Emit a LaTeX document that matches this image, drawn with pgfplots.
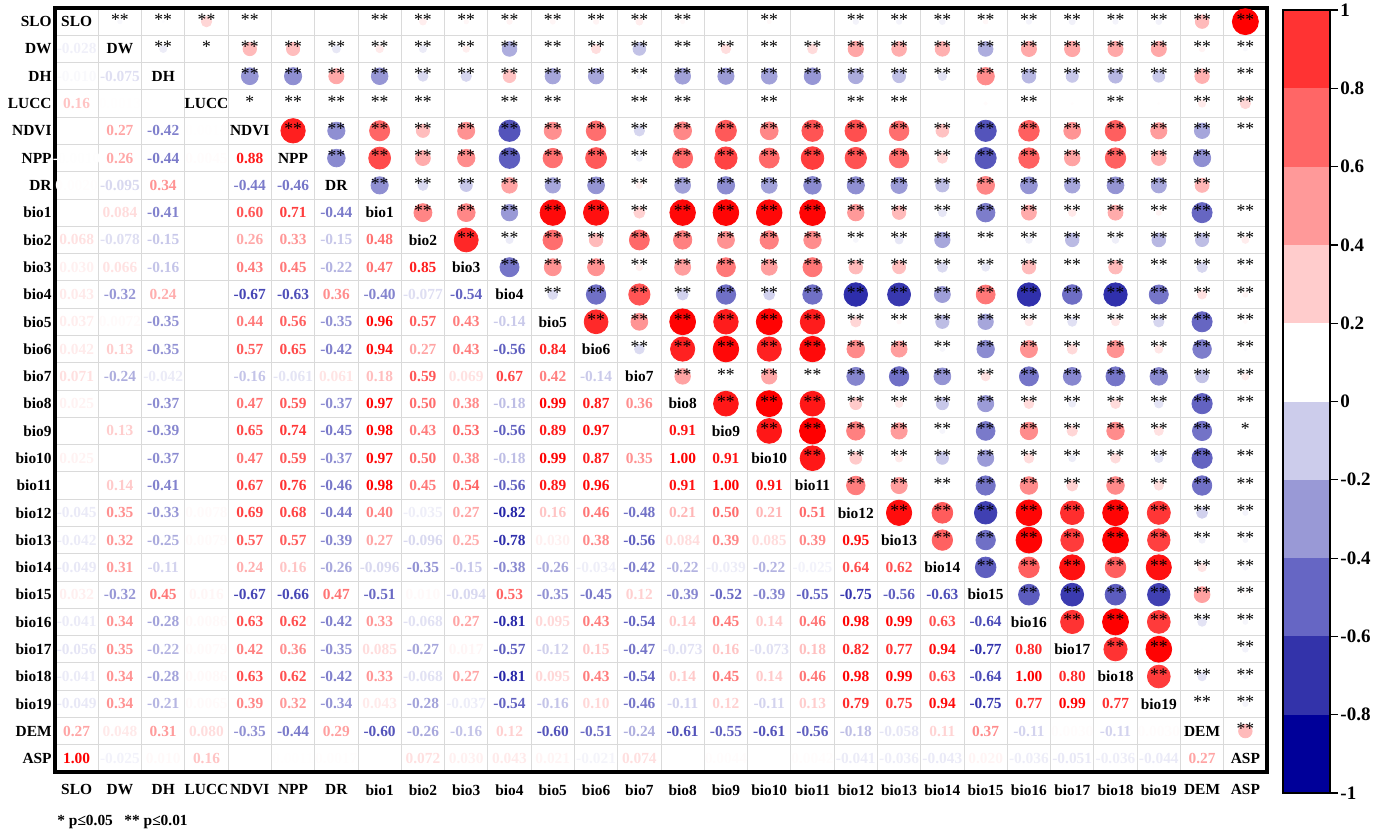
\documentclass[border=0pt]{standalone}
\usepackage{fontspec}
\setmainfont{Liberation Serif}
\usepackage{pgfplots}
\usepackage{pgfplotstable}
\pgfplotsset{compat=1.18}

\pgfplotstableread[row sep=\\]{
i j r s\\
1 0 -0.028 2\\
2 0 -0.010 2\\ 2 1 -0.075 2\\
3 0 0.16 2\\ 3 1 0.0013 1\\ 3 2 0 0\\
4 0 0 2\\ 4 1 0.27 2\\ 4 2 -0.42 2\\ 4 3 0.0013 1\\
5 0 -0.0010 0\\ 5 1 0.26 2\\ 5 2 -0.44 2\\ 5 3 0.0045 2\\ 5 4 0.88 2\\
6 0 0.0020 0\\ 6 1 -0.095 2\\ 6 2 0.34 2\\ 6 3 0 2\\ 6 4 -0.44 2\\ 6 5 -0.46 2\\
7 0 0 2\\ 7 1 0.084 2\\ 7 2 -0.41 2\\ 7 3 0 2\\ 7 4 0.60 2\\ 7 5 0.71 2\\ 7 6 -0.44 2\\
8 0 0.068 2\\ 8 1 -0.078 2\\ 8 2 -0.15 2\\ 8 3 0 2\\ 8 4 0.26 2\\ 8 5 0.33 2\\ 8 6 -0.15 2\\ 8 7 0.48 2\\
9 0 0.030 2\\ 9 1 0.066 2\\ 9 2 -0.16 2\\ 9 3 0 0\\ 9 4 0.43 2\\ 9 5 0.45 2\\ 9 6 -0.22 2\\ 9 7 0.47 2\\ 9 8 0.85 2\\
10 0 0.043 2\\ 10 1 -0.32 2\\ 10 2 0.24 2\\ 10 3 0 2\\ 10 4 -0.67 2\\ 10 5 -0.63 2\\ 10 6 0.36 2\\ 10 7 -0.40 2\\ 10 8 -0.077 2\\ 10 9 -0.54 2\\
11 0 0.037 2\\ 11 1 0.0072 2\\ 11 2 -0.35 2\\ 11 3 0 2\\ 11 4 0.44 2\\ 11 5 0.56 2\\ 11 6 -0.35 2\\ 11 7 0.96 2\\ 11 8 0.57 2\\ 11 9 0.43 2\\ 11 10 -0.14 2\\
12 0 0.042 2\\ 12 1 0.13 2\\ 12 2 -0.35 2\\ 12 3 0 0\\ 12 4 0.57 2\\ 12 5 0.65 2\\ 12 6 -0.42 2\\ 12 7 0.94 2\\ 12 8 0.27 2\\ 12 9 0.43 2\\ 12 10 -0.56 2\\ 12 11 0.84 2\\
13 0 0.071 2\\ 13 1 -0.24 2\\ 13 2 -0.042 2\\ 13 3 0 2\\ 13 4 -0.16 2\\ 13 5 -0.061 2\\ 13 6 0.061 2\\ 13 7 0.18 2\\ 13 8 0.59 2\\ 13 9 0.069 2\\ 13 10 0.67 2\\ 13 11 0.42 2\\ 13 12 -0.14 2\\
14 0 0.025 2\\ 14 1 0 2\\ 14 2 -0.37 2\\ 14 3 0 2\\ 14 4 0.47 2\\ 14 5 0.59 2\\ 14 6 -0.37 2\\ 14 7 0.97 2\\ 14 8 0.50 2\\ 14 9 0.38 2\\ 14 10 -0.18 2\\ 14 11 0.99 2\\ 14 12 0.87 2\\ 14 13 0.36 2\\
15 0 0 0\\ 15 1 0.13 2\\ 15 2 -0.39 2\\ 15 3 0 0\\ 15 4 0.65 2\\ 15 5 0.74 2\\ 15 6 -0.45 2\\ 15 7 0.98 2\\ 15 8 0.43 2\\ 15 9 0.53 2\\ 15 10 -0.56 2\\ 15 11 0.89 2\\ 15 12 0.97 2\\ 15 13 0 2\\ 15 14 0.91 2\\
16 0 0.025 2\\ 16 1 0 2\\ 16 2 -0.37 2\\ 16 3 0 2\\ 16 4 0.47 2\\ 16 5 0.59 2\\ 16 6 -0.37 2\\ 16 7 0.97 2\\ 16 8 0.50 2\\ 16 9 0.38 2\\ 16 10 -0.18 2\\ 16 11 0.99 2\\ 16 12 0.87 2\\ 16 13 0.35 2\\ 16 14 1.00 2\\ 16 15 0.91 2\\
17 0 0 0\\ 17 1 0.14 2\\ 17 2 -0.41 2\\ 17 3 0 0\\ 17 4 0.67 2\\ 17 5 0.76 2\\ 17 6 -0.46 2\\ 17 7 0.98 2\\ 17 8 0.45 2\\ 17 9 0.54 2\\ 17 10 -0.56 2\\ 17 11 0.89 2\\ 17 12 0.96 2\\ 17 13 0 2\\ 17 14 0.91 2\\ 17 15 1.00 2\\ 17 16 0.91 2\\
18 0 -0.045 2\\ 18 1 0.35 2\\ 18 2 -0.33 2\\ 18 3 0.0078 2\\ 18 4 0.69 2\\ 18 5 0.68 2\\ 18 6 -0.44 2\\ 18 7 0.40 2\\ 18 8 -0.035 2\\ 18 9 0.27 2\\ 18 10 -0.82 2\\ 18 11 0.16 2\\ 18 12 0.46 2\\ 18 13 -0.48 2\\ 18 14 0.21 2\\ 18 15 0.50 2\\ 18 16 0.21 2\\ 18 17 0.51 2\\
19 0 -0.042 2\\ 19 1 0.32 2\\ 19 2 -0.25 2\\ 19 3 0.0079 2\\ 19 4 0.57 2\\ 19 5 0.57 2\\ 19 6 -0.39 2\\ 19 7 0.27 2\\ 19 8 -0.096 2\\ 19 9 0.25 2\\ 19 10 -0.78 2\\ 19 11 0.030 2\\ 19 12 0.38 2\\ 19 13 -0.56 2\\ 19 14 0.084 2\\ 19 15 0.39 2\\ 19 16 0.085 2\\ 19 17 0.39 2\\ 19 18 0.95 2\\
20 0 -0.049 2\\ 20 1 0.31 2\\ 20 2 -0.11 2\\ 20 3 0 0\\ 20 4 0.24 2\\ 20 5 0.16 2\\ 20 6 -0.26 2\\ 20 7 -0.096 2\\ 20 8 -0.35 2\\ 20 9 -0.15 2\\ 20 10 -0.38 2\\ 20 11 -0.26 2\\ 20 12 -0.034 2\\ 20 13 -0.42 2\\ 20 14 -0.22 2\\ 20 15 -0.039 2\\ 20 16 -0.22 2\\ 20 17 -0.025 2\\ 20 18 0.64 2\\ 20 19 0.62 2\\
21 0 0.032 2\\ 21 1 -0.32 2\\ 21 2 0.45 2\\ 21 3 0.016 0\\ 21 4 -0.67 2\\ 21 5 -0.66 2\\ 21 6 0.47 2\\ 21 7 -0.51 2\\ 21 8 0.0098 2\\ 21 9 -0.094 2\\ 21 10 0.53 2\\ 21 11 -0.35 2\\ 21 12 -0.45 2\\ 21 13 0.12 2\\ 21 14 -0.39 2\\ 21 15 -0.52 2\\ 21 16 -0.39 2\\ 21 17 -0.55 2\\ 21 18 -0.75 2\\ 21 19 -0.56 2\\ 21 20 -0.63 2\\
22 0 -0.041 2\\ 22 1 0.34 2\\ 22 2 -0.28 2\\ 22 3 0.0086 2\\ 22 4 0.63 2\\ 22 5 0.62 2\\ 22 6 -0.42 2\\ 22 7 0.33 2\\ 22 8 -0.068 2\\ 22 9 0.27 2\\ 22 10 -0.81 2\\ 22 11 0.095 2\\ 22 12 0.43 2\\ 22 13 -0.54 2\\ 22 14 0.14 2\\ 22 15 0.45 2\\ 22 16 0.14 2\\ 22 17 0.46 2\\ 22 18 0.98 2\\ 22 19 0.99 2\\ 22 20 0.63 2\\ 22 21 -0.64 2\\
23 0 -0.056 2\\ 23 1 0.35 2\\ 23 2 -0.22 2\\ 23 3 0.0079 0\\ 23 4 0.42 2\\ 23 5 0.36 2\\ 23 6 -0.35 2\\ 23 7 0.085 2\\ 23 8 -0.27 2\\ 23 9 0.017 2\\ 23 10 -0.57 2\\ 23 11 -0.12 2\\ 23 12 0.15 2\\ 23 13 -0.47 2\\ 23 14 -0.073 2\\ 23 15 0.16 2\\ 23 16 -0.073 2\\ 23 17 0.18 2\\ 23 18 0.82 2\\ 23 19 0.77 2\\ 23 20 0.94 2\\ 23 21 -0.77 2\\ 23 22 0.80 2\\
24 0 -0.041 2\\ 24 1 0.34 2\\ 24 2 -0.28 2\\ 24 3 0.0086 2\\ 24 4 0.63 2\\ 24 5 0.62 2\\ 24 6 -0.42 2\\ 24 7 0.33 2\\ 24 8 -0.068 2\\ 24 9 0.27 2\\ 24 10 -0.81 2\\ 24 11 0.095 2\\ 24 12 0.43 2\\ 24 13 -0.54 2\\ 24 14 0.14 2\\ 24 15 0.45 2\\ 24 16 0.14 2\\ 24 17 0.46 2\\ 24 18 0.98 2\\ 24 19 0.99 2\\ 24 20 0.63 2\\ 24 21 -0.64 2\\ 24 22 1.00 2\\ 24 23 0.80 2\\
25 0 -0.049 2\\ 25 1 0.34 2\\ 25 2 -0.21 2\\ 25 3 0.0065 0\\ 25 4 0.39 2\\ 25 5 0.32 2\\ 25 6 -0.34 2\\ 25 7 0.043 2\\ 25 8 -0.28 2\\ 25 9 -0.037 2\\ 25 10 -0.54 2\\ 25 11 -0.16 2\\ 25 12 0.10 2\\ 25 13 -0.46 2\\ 25 14 -0.11 2\\ 25 15 0.12 2\\ 25 16 -0.11 2\\ 25 17 0.13 2\\ 25 18 0.79 2\\ 25 19 0.75 2\\ 25 20 0.94 2\\ 25 21 -0.75 2\\ 25 22 0.77 2\\ 25 23 0.99 2\\ 25 24 0.77 2\\
26 0 0.27 2\\ 26 1 0.048 2\\ 26 2 0.31 2\\ 26 3 0.080 2\\ 26 4 -0.35 2\\ 26 5 -0.44 2\\ 26 6 0.29 2\\ 26 7 -0.60 2\\ 26 8 -0.26 2\\ 26 9 -0.16 2\\ 26 10 0.12 2\\ 26 11 -0.60 2\\ 26 12 -0.51 2\\ 26 13 -0.24 2\\ 26 14 -0.61 2\\ 26 15 -0.55 2\\ 26 16 -0.61 2\\ 26 17 -0.56 2\\ 26 18 -0.18 2\\ 26 19 -0.058 2\\ 26 20 0.11 2\\ 26 21 0.37 2\\ 26 22 -0.11 2\\ 26 23 0.0030 0\\ 26 24 -0.11 2\\ 26 25 0.0030 2\\
27 0 1.00 2\\ 27 1 -0.025 2\\ 27 2 0.0099 2\\ 27 3 0.16 2\\ 27 4 0 2\\ 27 5 0.0011 0\\ 27 6 0.0017 0\\ 27 7 0 2\\ 27 8 0.072 2\\ 27 9 0.030 2\\ 27 10 0.043 2\\ 27 11 0.021 2\\ 27 12 -0.021 2\\ 27 13 0.074 2\\ 27 14 0 2\\ 27 15 0.0044 1\\ 27 16 0 2\\ 27 17 0.0042 2\\ 27 18 -0.041 2\\ 27 19 -0.036 2\\ 27 20 -0.043 2\\ 27 21 0.020 2\\ 27 22 -0.036 2\\ 27 23 -0.051 2\\ 27 24 -0.036 2\\ 27 25 -0.044 2\\ 27 26 0.27 2\\
}\corrtable
\pgfplotstablecreatecol[expr={27-\thisrow{i}}]{yi}\corrtable
\pgfplotstablecreatecol[expr={27-\thisrow{j}}]{yj}\corrtable

\pgfplotstableread[row sep=\\]{
k name\\
0 SLO\\ 1 DW\\ 2 DH\\ 3 LUCC\\ 4 NDVI\\ 5 NPP\\ 6 DR\\ 7 bio1\\ 8 bio2\\ 9 bio3\\
10 bio4\\ 11 bio5\\ 12 bio6\\ 13 bio7\\ 14 bio8\\ 15 bio9\\ 16 bio10\\ 17 bio11\\
18 bio12\\ 19 bio13\\ 20 bio14\\ 21 bio15\\ 22 bio16\\ 23 bio17\\ 24 bio18\\
25 bio19\\ 26 DEM\\ 27 ASP\\
}\diagtable
\pgfplotstablecreatecol[expr={27-\thisrow{k}}]{ky}\diagtable

\definecolor{gridgray}{RGB}{218,218,218}
\definecolor{posc}{RGB}{255,0,0}
\definecolor{negc}{RGB}{0,0,153}
\definecolor{cbA}{RGB}{0,0,153}
\definecolor{cbB}{RGB}{51,51,170}
\definecolor{cbC}{RGB}{102,102,196}
\definecolor{cbD}{RGB}{153,153,214}
\definecolor{cbE}{RGB}{204,204,235}
\definecolor{cbF}{RGB}{255,255,255}
\definecolor{cbG}{RGB}{255,204,204}
\definecolor{cbH}{RGB}{255,153,153}
\definecolor{cbI}{RGB}{255,102,102}
\definecolor{cbJ}{RGB}{255,51,51}

\newcommand{\cellfont}{\bfseries\fontsize{7.7}{9}\selectfont}

\pgfplotsset{
  lowtxt/.style n args={4}{%
    only marks, mark=text, text mark={},
    point meta=\thisrow{r},
    restrict expr to domain={\thisrow{r}}{#1:#2},
    visualization depends on={100*abs(\thisrow{r})^0.8 \as \pct},
    nodes near coords={\pgfmathprintnumber[fixed,zerofill,precision=#3,assume math mode=true]{\pgfplotspointmeta}},
    nodes near coords style={anchor=center, inner sep=0pt, font=\cellfont, text=#4!\pct!white},
  },
}

\begin{document}
\begin{tikzpicture}[x=1pt,y=1pt]
\useasboundingbox (0,0) rectangle (692,-416);
\begin{axis}[
  at={(27.5pt,-4pt)}, anchor=north west,
  scale only axis, width=606pt, height=382pt,
  xmin=-0.5, xmax=27.5, ymin=-0.5, ymax=27.5,
  xtick={0,...,27}, ytick={0,...,27},
  xticklabels={SLO,DW,DH,LUCC,NDVI,NPP,DR,bio1,bio2,bio3,bio4,bio5,bio6,bio7,bio8,bio9,bio10,bio11,bio12,bio13,bio14,bio15,bio16,bio17,bio18,bio19,DEM,ASP},
  yticklabels={ASP,DEM,bio19,bio18,bio17,bio16,bio15,bio14,bio13,bio12,bio11,bio10,bio9,bio8,bio7,bio6,bio5,bio4,bio3,bio2,bio1,DR,NPP,NDVI,LUCC,DH,DW,SLO},
  minor xtick={-0.5,0.5,...,27.5}, minor ytick={-0.5,0.5,...,27.5},
  xminorgrids=true, yminorgrids=true,
  minor grid style={gridgray, line width=0.5pt},
  major tick length=0pt, minor tick length=0pt,
  axis line style={line width=1.6pt},
  tick label style={font=\cellfont},
  xticklabel style={inner sep=0pt, yshift=-6pt},
  yticklabel style={inner sep=1.5pt},
  colormap={corr}{rgb255(0cm)=(0,0,153) rgb255(1cm)=(255,255,255) rgb255(2cm)=(255,0,0)},
  point meta min=-1, point meta max=1,
  clip=false,
]
% circles in the upper triangle
\addplot[scatter, only marks, mark=*,
  point meta=\thisrow{r},
  visualization depends on={6.5*sqrt(abs(\thisrow{r})) \as \rad},
  scatter/use mapped color={draw=mapped color, fill=mapped color},
  scatter/@pre marker code/.append style={/tikz/mark size=\rad},
] table[x=i, y=yj] {\corrtable};
% significance stars
\addplot[only marks, mark=text, text mark={**}, text mark as node=true,
  text mark style={font=\fontsize{8.8}{9}\selectfont, inner sep=0pt, anchor=center, yshift=1pt},
  black, restrict expr to domain={\thisrow{s}}{1.5:2.5},
] table[x=i, y=yj] {\corrtable};
\addplot[only marks, mark=text, text mark={*}, text mark as node=true,
  text mark style={font=\fontsize{8.8}{9}\selectfont, inner sep=0pt, anchor=center, yshift=1pt},
  black, restrict expr to domain={\thisrow{s}}{0.5:1.5},
] table[x=i, y=yj] {\corrtable};
% coefficients in the lower triangle
\addplot[lowtxt={0.0975}{1.1}{2}{posc}] table[x=j, y=yi] {\corrtable};
\addplot[lowtxt={0.00975}{0.0975}{3}{posc}] table[x=j, y=yi] {\corrtable};
\addplot[lowtxt={0.0005}{0.00975}{4}{posc}] table[x=j, y=yi] {\corrtable};
\addplot[lowtxt={-1.1}{-0.0975}{2}{negc}] table[x=j, y=yi] {\corrtable};
\addplot[lowtxt={-0.0975}{-0.00975}{3}{negc}] table[x=j, y=yi] {\corrtable};
\addplot[lowtxt={-0.00975}{-0.0005}{4}{negc}] table[x=j, y=yi] {\corrtable};
% diagonal names
\addplot[only marks, mark=text, text mark={},
  point meta=explicit symbolic, nodes near coords,
  nodes near coords style={anchor=center, inner sep=0pt, font=\cellfont, text=black},
] table[x=k, y=ky, meta=name] {\diagtable};
\end{axis}

\begin{axis}[
  at={(641.5pt,-5pt)}, anchor=north west,
  scale only axis, width=23.5pt, height=391.5pt,
  xmin=0, xmax=1, ymin=-1, ymax=1,
  xtick=\empty,
  ytick={-1,-0.8,-0.6,-0.4,-0.2,0,0.2,0.4,0.6,0.8,1},
  yticklabels={-1,-0.8,-0.6,-0.4,-0.2,0,0.2,0.4,0.6,0.8,1},
  ytick pos=right, yticklabel pos=right,
  tick align=outside, major tick length=4pt,
  tick style={black, line width=0.6pt},
  yticklabel style={font=\bfseries\fontsize{9.5}{10}\selectfont, inner sep=1pt},
  axis line style={line width=0.7pt},
  axis on top,
]
\addplot[fill=cbA, draw=none] coordinates {(0,-1) (1,-1) (1,-0.8) (0,-0.8)};
\addplot[fill=cbB, draw=none] coordinates {(0,-0.8) (1,-0.8) (1,-0.6) (0,-0.6)};
\addplot[fill=cbC, draw=none] coordinates {(0,-0.6) (1,-0.6) (1,-0.4) (0,-0.4)};
\addplot[fill=cbD, draw=none] coordinates {(0,-0.4) (1,-0.4) (1,-0.2) (0,-0.2)};
\addplot[fill=cbE, draw=none] coordinates {(0,-0.2) (1,-0.2) (1,0) (0,0)};
\addplot[fill=cbF, draw=none] coordinates {(0,0) (1,0) (1,0.2) (0,0.2)};
\addplot[fill=cbG, draw=none] coordinates {(0,0.2) (1,0.2) (1,0.4) (0,0.4)};
\addplot[fill=cbH, draw=none] coordinates {(0,0.4) (1,0.4) (1,0.6) (0,0.6)};
\addplot[fill=cbI, draw=none] coordinates {(0,0.6) (1,0.6) (1,0.8) (0,0.8)};
\addplot[fill=cbJ, draw=none] coordinates {(0,0.8) (1,0.8) (1,1) (0,1)};
\end{axis}

\node[anchor=west, inner sep=0pt, font=\cellfont] at (28.5,-411) {* p≤0.05\ \ \ ** p≤0.01};
\end{tikzpicture}
\end{document}
